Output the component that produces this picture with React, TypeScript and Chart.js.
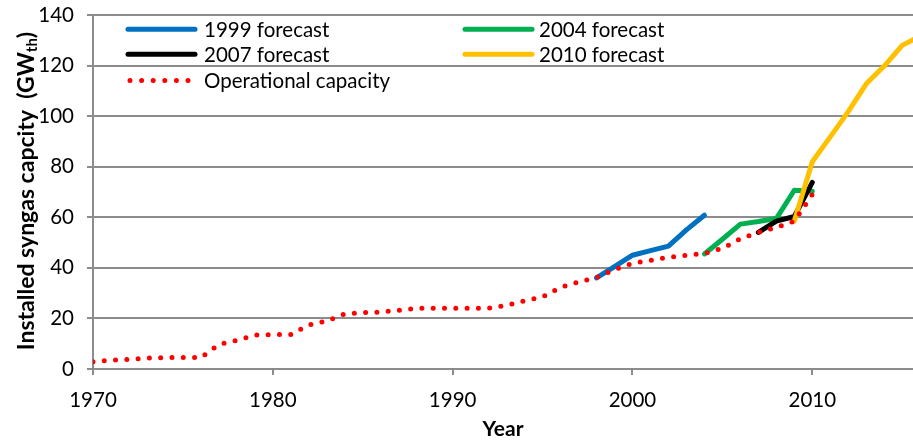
import React, { useEffect, useRef } from "react";
import { Chart, registerables } from "chart.js";

Chart.register(...registerables);

const opYears = [1970,1971,1972,1973,1974,1975,1976,1977,1978,1979,1980,1981,1982,1983,1984,1985,1986,1987,1988,1989,1990,1991,1992,1993,1994,1995,1996,1997,1998,1999,2000,2001,2002,2003,2004,2005,2006,2007,2008,2009,2010];
const opValues = [2.9,3.5,3.8,4.3,4.5,4.5,4.5,9.7,11.3,13.4,13.6,13.6,17.4,19,21.8,22.3,22.5,23.2,24,24,24,24,24.1,25.2,27,28.5,32.3,34.4,36.2,39.3,41.8,42.9,44.2,45,45.7,47.7,51.5,54,56,58.5,69];

const f1999Years = [1998,1999,2000,2001,2002,2003,2004];
const f1999Values = [36,40.5,45,46.8,48.6,55,60.8];

const f2004Years = [2004,2005,2006,2007,2008,2009,2010];
const f2004Values = [45.5,51.3,57.3,58.3,59.5,70.7,70.3];

const f2007Years = [2007,2008,2009,2010];
const f2007Values = [54,58.5,60.3,73.8];

const f2010Years = [2009,2010,2011,2012,2013,2014,2015,2016];
const f2010Values = [58.5,82,91.8,101.8,112.8,119.8,128,131.7];

const xTicks = [1970,1980,1990,2000,2010];
const yTitle = "Installed syngas capcity  (GW";
const yTitleSub = "th";
const yTitleEnd = ")";
const xTitle = "Year";

const FONT = "Lato";
const GRID = "#8c8c8c";

const toPts = (xs: number[], ys: number[]) => xs.map((x, i) => ({ x, y: ys[i] }));

export default function App() {
  const ref = useRef<HTMLCanvasElement>(null);
  useEffect(() => {
    document.body.style.margin = "0";
    const canvas = ref.current!;
    const legendItems = [
      { label: "1999 forecast", color: "#0070c0", col: 0, row: 0, dotted: false },
      { label: "2004 forecast", color: "#00b050", col: 1, row: 0, dotted: false },
      { label: "2007 forecast", color: "#000000", col: 0, row: 1, dotted: false },
      { label: "2010 forecast", color: "#ffc000", col: 1, row: 1, dotted: false },
      { label: "Operational capacity", color: "#ff0000", col: 0, row: 2, dotted: true },
    ];
    const customDraw = {
      id: "customDraw",
      afterDraw(chart: any) {
        const ctx = chart.ctx;
        const area = chart.chartArea;
        ctx.save();
        // legend
        const rowsY = [29.3, 54.3, 80.5];
        const cols = [{ x0: 128, x1: 195, tx: 204 }, { x0: 465, x1: 532, tx: 539 }];
        ctx.font = `20.5px ${FONT}`;
        ctx.textBaseline = "middle";
        ctx.textAlign = "left";
        for (const it of legendItems) {
          const c = cols[it.col];
          const y = rowsY[it.row];
          ctx.strokeStyle = it.color;
          ctx.lineCap = "round";
          ctx.lineWidth = 5;
          ctx.beginPath();
          if (it.dotted) {
            ctx.setLineDash([0, 11.6]);
            ctx.moveTo(130, y);
            ctx.lineTo(190, y);
          } else {
            ctx.setLineDash([]);
            ctx.moveTo(c.x0, y);
            ctx.lineTo(c.x1, y);
          }
          ctx.stroke();
          ctx.setLineDash([]);
          ctx.fillStyle = "#000";
          ctx.fillText(it.label, c.tx, y + 1);
        }
        // y title with subscript
        const mainFont = `bold 23px ${FONT}`;
        const subFont = `bold 15px ${FONT}`;
        ctx.font = mainFont;
        const w1 = ctx.measureText(yTitle).width;
        const w3 = ctx.measureText(yTitleEnd).width;
        ctx.font = subFont;
        const w2 = ctx.measureText(yTitleSub).width;
        const total = w1 + w2 + w3;
        const cy = 191;
        ctx.translate(27, cy);
        ctx.rotate(-Math.PI / 2);
        ctx.textAlign = "left";
        ctx.textBaseline = "middle";
        let x = -total / 2;
        ctx.font = mainFont;
        ctx.fillText(yTitle, x, 0);
        x += w1;
        ctx.font = subFont;
        ctx.fillText(yTitleSub, x, 5);
        x += w2;
        ctx.font = mainFont;
        ctx.fillText(yTitleEnd, x, 0);
        ctx.setTransform(1, 0, 0, 1, 0, 0);
        // x title
        ctx.font = `bold 21px ${FONT}`;
        ctx.textAlign = "center";
        ctx.textBaseline = "middle";
        ctx.fillText(xTitle, (area.left + area.right) / 2, 429);
        ctx.restore();
      },
    };

    const lineDs = (label: string, xs: number[], ys: number[], color: string, order: number) => ({
      label,
      data: toPts(xs, ys),
      borderColor: color,
      backgroundColor: color,
      borderWidth: 5,
      borderCapStyle: "round" as const,
      borderJoinStyle: "round" as const,
      pointRadius: 0,
      pointHoverRadius: 0,
      tension: 0,
      order,
    });

    const chart = new Chart(canvas, {
      type: "line",
      data: {
        datasets: [
          lineDs("1999 forecast", f1999Years, f1999Values, "#0070c0", 4),
          lineDs("2004 forecast", f2004Years, f2004Values, "#00b050", 3),
          lineDs("2007 forecast", f2007Years, f2007Values, "#000000", 2),
          lineDs("2010 forecast", f2010Years, f2010Values, "#ffc000", 1),
          {
            ...lineDs("Operational capacity", opYears, opValues, "#ff0000", 0),
            borderDash: [0, 11.3],
            borderWidth: 5,
          },
        ],
      },
      options: {
        animation: false,
        responsive: false,
        maintainAspectRatio: false,
        layout: { padding: { top: 15, right: 0, left: 0, bottom: 0 } },
        plugins: { legend: { display: false }, tooltip: { enabled: false } },
        scales: {
          x: {
            type: "linear",
            min: 1970,
            max: 2015.6,
            afterFit: (s: any) => { s.height = 71; s.paddingLeft = 0; s.paddingRight = 0; },
            afterBuildTicks: (s: any) => { s.ticks = xTicks.map((v) => ({ value: v })); },
            ticks: {
              font: { family: FONT, size: 20.5 },
              color: "#000",
              padding: 13,
              maxRotation: 0,
              autoSkip: false,
              callback: (v: any) => String(v),
            },
            grid: { drawOnChartArea: false, drawTicks: true, tickLength: 6, color: GRID, lineWidth: 2 },
            border: { display: true, color: GRID, width: 2 },
          },
          y: {
            min: 0,
            max: 140,
            afterFit: (s: any) => { s.width = 93; s.paddingTop = 0; s.paddingBottom = 0; },
            ticks: {
              stepSize: 20,
              font: { family: FONT, size: 20.5 },
              color: "#000",
              padding: 13,
            },
            grid: { drawTicks: true, tickLength: 6, color: GRID, lineWidth: 2 },
            border: { display: true, color: GRID, width: 2 },
          },
        },
      },
      plugins: [customDraw],
    });
    return () => chart.destroy();
  }, []);
  return (
    <div style={{ width: 913, height: 440 }}>
      <canvas ref={ref} width={913} height={440} style={{ display: "block", width: 913, height: 440 }} />
    </div>
  );
}
